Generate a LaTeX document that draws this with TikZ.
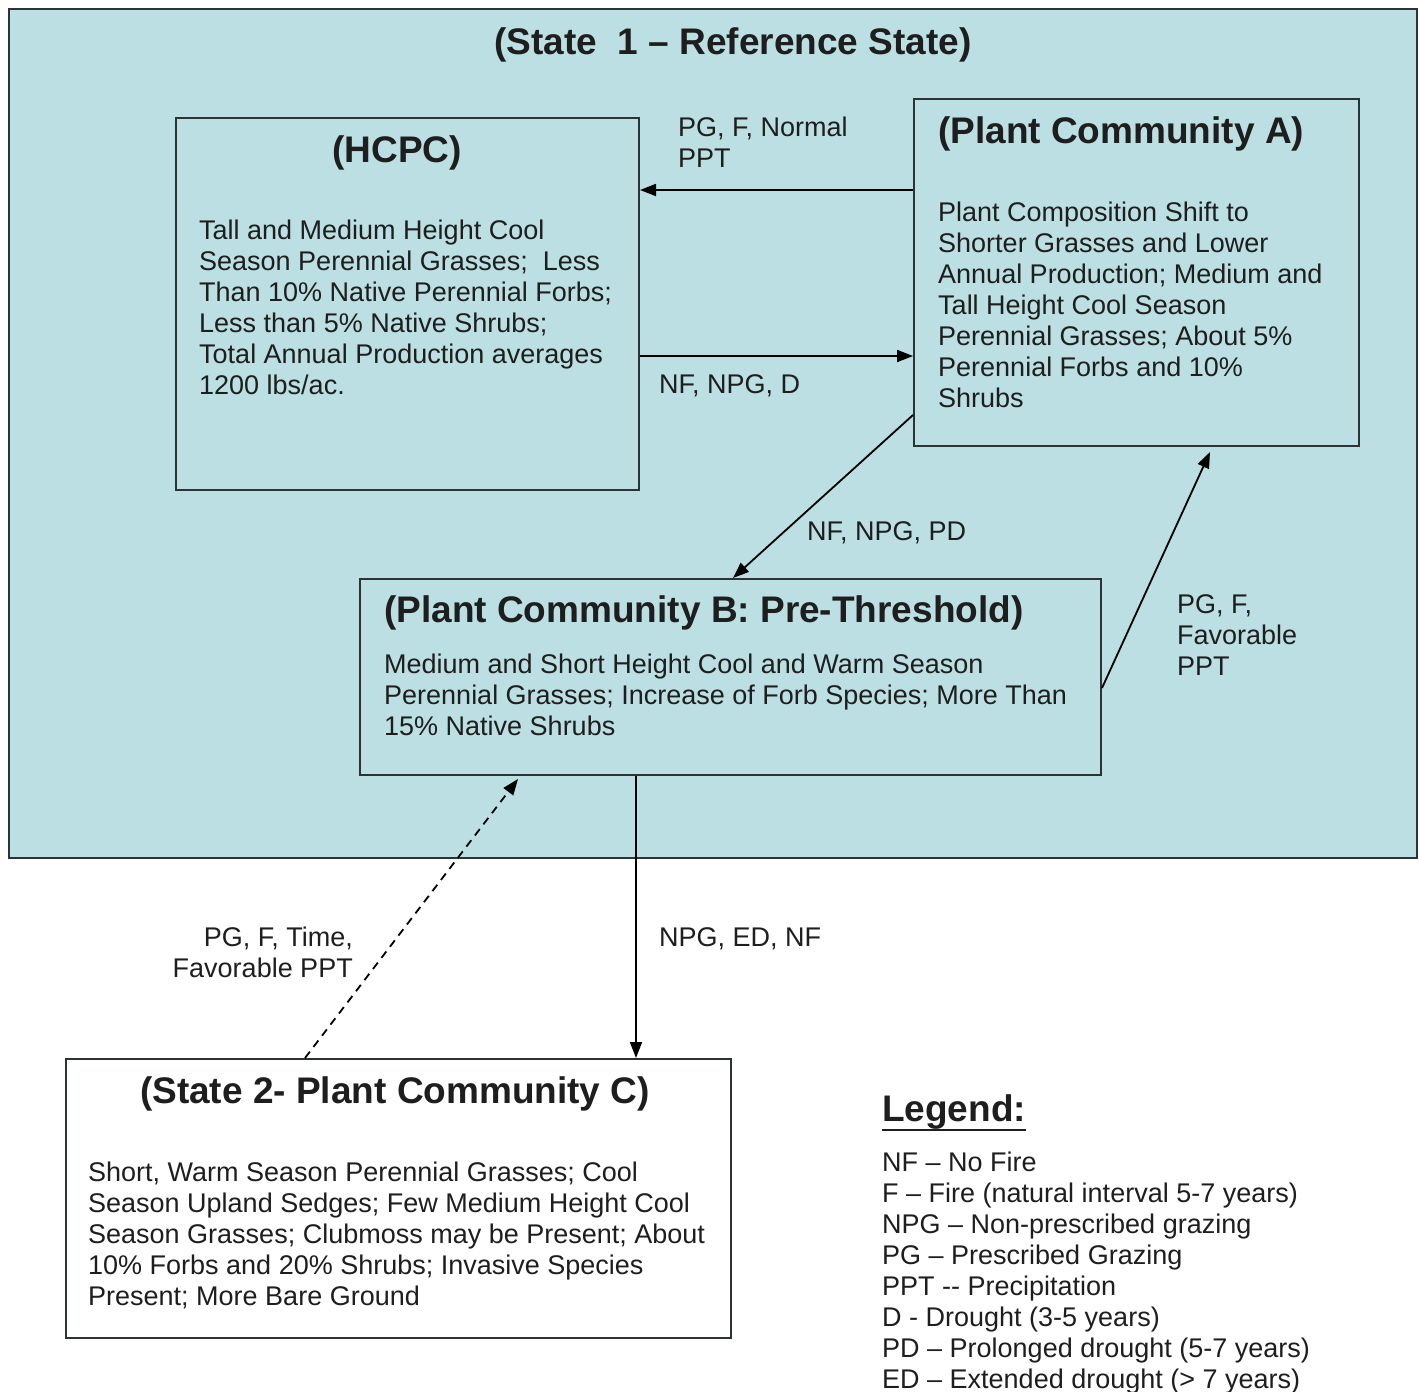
\documentclass[tikz,border=0pt]{standalone}
\usepackage{fontspec}
\setmainfont{Liberation Sans}
\usetikzlibrary{arrows.meta,calc}
\definecolor{statebg}{RGB}{187,223,226}
\definecolor{edge}{RGB}{45,50,52}
\definecolor{ink}{RGB}{30,30,30}
\begin{document}
\begin{tikzpicture}[x=1pt,y=-1pt,
  box/.style={draw=edge,line width=2pt,inner sep=0,anchor=north west},
  ttl/.style={font=\fontsize{37}{41}\selectfont\bfseries,text=ink,inner sep=0},
  body/.style={font=\fontsize{27}{31}\selectfont,text=ink,inner sep=0,align=left,anchor=north west},
  arr/.style={draw=black,line width=1.8pt,-{Triangle[length=16pt,width=12pt]}},
  darr/.style={arr,dash pattern=on 8pt off 6pt}]
\useasboundingbox (0,0) rectangle (1419,1392);
\fill[white] (0,0) rectangle (1419,1392);
% outer state
\node[box,fill=statebg,minimum width=1408,minimum height=849] (state1) at (8,8) {};
\node[ttl] (t1) at (733,45) {(State\ \ 1 -- Reference State)};
% boxes
\node[box,minimum width=463,minimum height=372] (hcpc) at (175,117) {};
\node[box,minimum width=445,minimum height=347] (pca) at (913,98) {};
\node[box,minimum width=741,minimum height=196] (pcb) at (359,578) {};
\node[box,fill=white,minimum width=665,minimum height=279] (pcc) at (65,1058) {};
% titles
\node[ttl] (thcpc) at (397,153) {(HCPC)};
\node[ttl,anchor=west] (tpca) at (938,134) {(Plant Community A)};
\node[ttl,anchor=west] (tpcb) at (384,613) {(Plant Community B: Pre-Threshold)};
\node[ttl] (tpcc) at (395,1094) {(State 2- Plant Community C)};
% bodies
\node[body] (bhcpc) at (199,220) {Tall and Medium Height Cool\\Season Perennial Grasses;\ \ Less\\Than 10\% Native Perennial Forbs;\\Less than 5\% Native Shrubs;\\Total Annual Production averages\\1200 lbs/ac.};
\node[body] (bpca) at (938,202) {Plant Composition Shift to\\Shorter Grasses and Lower\\Annual Production; Medium and\\Tall Height Cool Season\\Perennial Grasses; About 5\%\\Perennial Forbs and 10\%\\Shrubs};
\node[body] (bpcb) at (384,654) {Medium and Short Height Cool and Warm Season\\Perennial Grasses; Increase of Forb Species; More Than\\15\% Native Shrubs};
\node[body] (bpcc) at (88,1162) {Short, Warm Season Perennial Grasses; Cool\\Season Upland Sedges; Few Medium Height Cool\\Season Grasses; Clubmoss may be Present; About\\10\% Forbs and 20\% Shrubs; Invasive Species\\Present; More Bare Ground};
% arrows
\draw[arr] (pca.west |- 0,190) -- (hcpc.east |- 0,190);
\draw[arr] (hcpc.east |- 0,356) -- (pca.west |- 0,356);
\draw[arr] (pca.west |- 0,415) -- (pcb.north -| 733,0);
\coordinate (aIn) at (1210,452);
\draw[arr] (pcb.east |- 0,688) -- (aIn);
\draw[arr] (pcb.south -| 636,0) -- (pcc.north -| 636,0);
\coordinate (bIn) at (518,779);
\draw[darr] (pcc.north -| 305,0) -- (bIn);
% arrow labels
\node[body] (l1) at (678,117) {PG, F, Normal\\PPT};
\node[body] (l2) at (659,374) {NF, NPG, D};
\node[body] (l3) at (807,521) {NF, NPG, PD};
\node[body] (l4) at (1177,594) {PG, F,\\Favorable\\PPT};
\node[body,align=right,anchor=north east] (l5) at (353,927) {PG, F, Time,\\Favorable PPT};
\node[body] (l6) at (659,927) {NPG, ED, NF};
% legend
\node[ttl,anchor=west] (lg) at (882,1112) {Legend:};
\draw[line width=2.5pt,draw=ink] (lg.south west |- 0,1130) -- (lg.south east |- 0,1130);
\node[body] (lgb) at (882,1152) {NF -- No Fire\\F -- Fire (natural interval 5-7 years)\\NPG -- Non-prescribed grazing\\PG -- Prescribed Grazing\\PPT -{}- Precipitation\\D - Drought (3-5 years)\\PD -- Prolonged drought (5-7 years)\\ED -- Extended drought (> 7 years)};
\end{tikzpicture}
\end{document}
